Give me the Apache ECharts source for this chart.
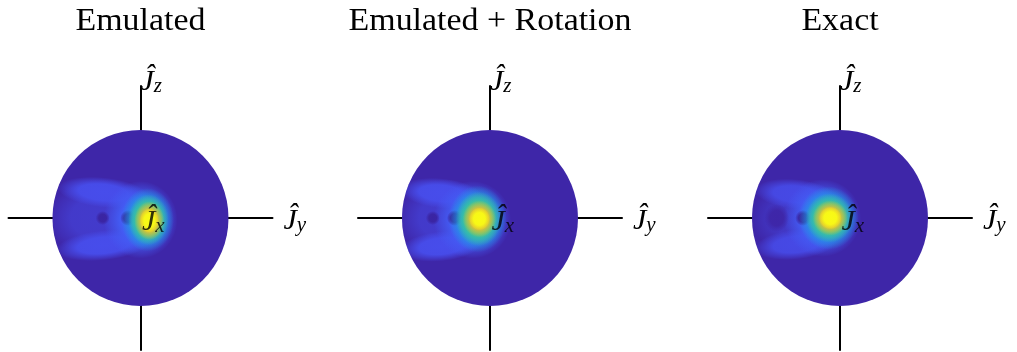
<!DOCTYPE html>
<html>
<head>
<meta charset="utf-8">
<script src="https://cdn.jsdelivr.net/npm/echarts@6/dist/echarts.min.js"></script>
<style>
  html, body { margin: 0; padding: 0; background: #fff; }
  #chart { width: 1017px; height: 352px; }
</style>
</head>
<body>
<div id="chart"></div>
<script>
// Panel titles
const panelTitles = ['Emulated', 'Emulated + Rotation', 'Exact'];

// Projected sphere: centre (J_y, J_z) and radius, unit sphere
const sphere = [[0, 0, 1]];

// Husimi-type distribution on the projected sphere, one list per panel.
// Each entry: [J_y, J_z, half-width, half-height, tilt (deg), level 0..1]
const emulatedBlobs = [
  [-0.45,  0.00, 0.62, 0.44,  0, 0.06],
  [-0.42,  0.29, 0.52, 0.17, -6, 0.11],
  [-0.42, -0.31, 0.54, 0.17,  6, 0.11],
  [ 0.00, -0.02, 0.42, 0.44,  0, 0.15],
  [-0.43,  0.00, 0.08, 0.08,  0, -0.03],
  [-0.14,  0.00, 0.09, 0.09,  0, -0.05],
  [ 0.08, -0.02, 0.30, 0.36,  0, 0.33],
  [ 0.09, -0.02, 0.23, 0.29,  0, 0.52],
  [ 0.10, -0.03, 0.17, 0.22,  0, 0.80],
  [ 0.10, -0.03, 0.11, 0.14,  0, 1.00]
];
const rotatedBlobs = [
  [-0.50,  0.00, 0.56, 0.44,  0, 0.06],
  [-0.55,  0.28, 0.47, 0.17, -6, 0.11],
  [-0.55, -0.32, 0.47, 0.17,  6, 0.11],
  [-0.20, -0.02, 0.44, 0.44,  0, 0.15],
  [-0.65,  0.00, 0.08, 0.08,  0, -0.03],
  [-0.40,  0.00, 0.09, 0.09,  0, -0.05],
  [-0.14, -0.01, 0.33, 0.38,  0, 0.33],
  [-0.13, -0.01, 0.26, 0.31,  0, 0.52],
  [-0.12, -0.01, 0.19, 0.21,  0, 0.80],
  [-0.12, -0.01, 0.12, 0.13,  0, 1.00]
];
const exactBlobs = [
  [-0.45,  0.00, 0.56, 0.42,  0, 0.05],
  [-0.50,  0.27, 0.47, 0.17, -6, 0.10],
  [-0.50, -0.30, 0.47, 0.17,  6, 0.10],
  [-0.20,  0.00, 0.44, 0.44,  0, 0.15],
  [-0.72,  0.00, 0.14, 0.16,  0, 0.00],
  [-0.42,  0.00, 0.09, 0.09,  0, -0.04],
  [-0.13,  0.00, 0.34, 0.36,  0, 0.33],
  [-0.12,  0.00, 0.27, 0.28,  0, 0.52],
  [-0.11,  0.00, 0.20, 0.20,  0, 0.80],
  [-0.11,  0.00, 0.13, 0.13,  0, 1.00]
];
const panelBlobs = [emulatedBlobs, rotatedBlobs, exactBlobs];

// Parula colour ramp, evenly spaced from -0.125 to 1
const parula = ['#2F1F8E', '#3E26A8', '#4852F4', '#2E87F7', '#12B1D6',
                '#37C897', '#81CC59', '#D1BB33', '#FEC831', '#F9FB15'];

const centresX = [140.5, 490, 840];
const half = 132;
const gridTop = 86;

const serif = 'Liberation Serif';
const rich = {
  J: { fontFamily: serif, fontStyle: 'italic', fontSize: 30, lineHeight: 38, color: '#000', verticalAlign: 'bottom' },
  s: { fontFamily: serif, fontStyle: 'italic', fontSize: 21, lineHeight: 22, color: '#000', verticalAlign: 'bottom' }
};

function renderSphere(params, api) {
  const c = api.coord([api.value(0), api.value(1)]);
  const r = api.size([api.value(2), api.value(2)])[0];
  return { type: 'circle', shape: { cx: c[0], cy: c[1], r: r }, style: { fill: '#3E26A8' } };
}

function renderBlob(params, api) {
  const c = api.coord([api.value(0), api.value(1)]);
  const s = api.size([api.value(2), api.value(3)]);
  const o = api.coord([sphere[0][0], sphere[0][1]]);
  const R = api.size([sphere[0][2], sphere[0][2]])[0];
  const col = api.visual('color');
  const ma = echarts.color.modifyAlpha;
  return {
    type: 'group',
    clipPath: { type: 'circle', shape: { cx: o[0], cy: o[1], r: R } },
    children: [{
      type: 'circle',
      x: c[0], y: c[1],
      rotation: api.value(4) * Math.PI / 180,
      scaleY: s[1] / s[0],
      shape: { cx: 0, cy: 0, r: s[0] },
      style: {
        fill: new echarts.graphic.RadialGradient(0.5, 0.5, 0.5, [
          { offset: 0, color: ma(col, 1) },
          { offset: 0.55, color: ma(col, 0.95) },
          { offset: 0.82, color: ma(col, 0.4) },
          { offset: 1, color: ma(col, 0) }
        ])
      }
    }]
  };
}

const grid = [], xAxis = [], yAxis = [], series = [], graphic = [], blobSeriesIdx = [];
centresX.forEach(function (cx, i) {
  grid.push({ left: cx - half, top: gridTop, width: 2 * half, height: 2 * half });
  const axisCommon = {
    gridIndex: i, type: 'value', min: -1.5, max: 1.5,
    axisLine: { show: true, onZero: true, lineStyle: { color: '#000', width: 2 } },
    axisTick: { show: false }, axisLabel: { show: false }, splitLine: { show: false }
  };
  xAxis.push(Object.assign({}, axisCommon, {
    name: '{J|Ĵ}{s|y}', nameLocation: 'end', nameGap: 11,
    nameTextStyle: { rich: rich, verticalAlign: 'middle', padding: [0, 0, 2, 0] }
  }));
  yAxis.push(Object.assign({}, axisCommon, {
    name: '{J|Ĵ}{s|z}', nameLocation: 'end', nameGap: -11,
    nameTextStyle: { rich: rich, align: 'left', verticalAlign: 'bottom', padding: [0, 0, 0, 0] }
  }));
  series.push({
    type: 'custom', xAxisIndex: i, yAxisIndex: i, silent: true,
    renderItem: renderSphere, data: sphere
  });
  blobSeriesIdx.push(series.length);
  series.push({
    type: 'custom', xAxisIndex: i, yAxisIndex: i, silent: true,
    dimensions: ['y', 'z', 'w', 'h', 'tilt', 'level'],
    encode: { x: 0, y: 1 },
    renderItem: renderBlob, data: panelBlobs[i]
  });
  series.push({
    type: 'scatter', xAxisIndex: i, yAxisIndex: i, silent: true,
    data: [[0, 0]], symbolSize: 1, itemStyle: { color: 'rgba(0,0,0,0)' },
    label: { show: true, position: 'right', distance: 1, formatter: '{J|Ĵ}{s|x}', rich: rich }
  });
  graphic.push({
    type: 'text', x: cx, y: 22, scaleX: 1.06,
    style: { text: panelTitles[i], fontFamily: serif, fontSize: 32, fill: '#000', align: 'center', verticalAlign: 'middle' }
  });
});

const chart = echarts.init(document.getElementById('chart'), null, { renderer: 'canvas' });
chart.setOption({
  animation: false,
  backgroundColor: '#fff',
  grid: grid, xAxis: xAxis, yAxis: yAxis,
  visualMap: {
    type: 'continuous', show: false, seriesIndex: blobSeriesIdx, dimension: 5,
    min: -0.125, max: 1, inRange: { color: parula }
  },
  series: series,
  graphic: graphic
});
</script>
</body>
</html>
